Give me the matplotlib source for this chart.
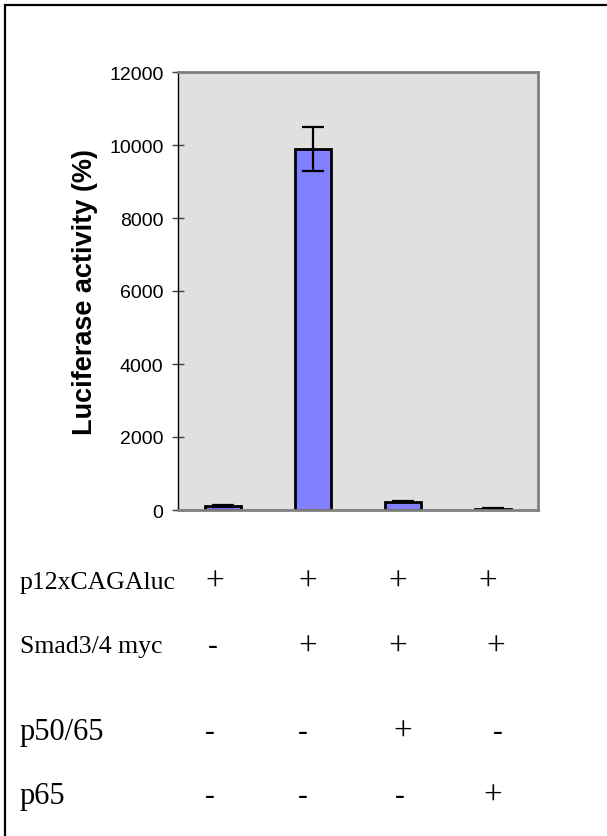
import numpy as np
import matplotlib.pyplot as plt
from matplotlib.patches import Rectangle

# Luciferase reporter activity for the four transfection conditions
conditions = ['1', '2', '3', '4']
activity = [100, 9900, 230, 40]
errors = [30, 600, 20, 10]

# Transfection table below the chart
row_labels = ['p12xCAGAluc', 'Smad3/4 myc', 'p50/65', 'p65']
row_signs = [
    ['+', '+', '+', '+'],
    ['-', '+', '+', '+'],
    ['-', '-', '+', '-'],
    ['-', '-', '-', '+'],
]
yticks = [0, 2000, 4000, 6000, 8000, 10000, 12000]

W, H = 607, 837
fig = plt.figure(figsize=(W / 100, H / 100), dpi=100)

# outer frame (right and bottom edges fall off the page)
fig.patches.append(Rectangle((5 / W, -0.1), 1.2, 1 - 6 / H + 0.1,
                             transform=fig.transFigure, fill=False,
                             edgecolor='black', linewidth=1.6))

ax = fig.add_axes([178 / W, 1 - 511 / H, (538 - 178) / W, (511 - 73) / H])
ax.set_facecolor('#e0e0e0')
x = np.arange(len(conditions))
ax.bar(x, activity, width=0.41, color='#8080ff', edgecolor='black',
       linewidth=2, yerr=errors, capsize=8,
       error_kw=dict(elinewidth=1.6, capthick=1.6, ecolor='black'))
ax.set_xlim(-0.5, len(conditions) - 0.5)
ax.set_ylim(0, 12000)
ax.set_yticks(yticks)
ax.set_yticklabels([str(v) for v in yticks], fontsize=14, family='Liberation Sans')
ax.set_xticks([])
ax.tick_params(axis='y', direction='inout', length=9, width=1, color='#404040', pad=6)
for side in ['top', 'right', 'bottom']:
    ax.spines[side].set_color('#808080')
    ax.spines[side].set_linewidth(2)
ax.spines['left'].set_color('black')
ax.spines['left'].set_linewidth(1)
ax.set_ylabel('Luciferase activity (%)', fontsize=19.5, fontweight='bold',
              family='Liberation Sans', labelpad=8)

# condition table
row_y = [583, 647, 733, 797]
row_size = [18.5, 18.5, 22, 22]
sign_x = [
    [215, 308, 398, 488],
    [213, 308, 398, 496],
    [210, 303, 403, 498],
    [210, 303, 400, 493],
]
for label, signs, y, fs, xs in zip(row_labels, row_signs, row_y, row_size, sign_x):
    fig.text(20 / W, 1 - y / H, label, fontsize=fs, family='Liberation Serif',
             va='center', ha='left')
    for s, sx in zip(signs, xs):
        fig.text(sx / W, 1 - y / H, s, fontsize=24 if s == '+' else 21,
                 family='Liberation Serif', va='center', ha='center')

fig.savefig('out.png', dpi=100)
